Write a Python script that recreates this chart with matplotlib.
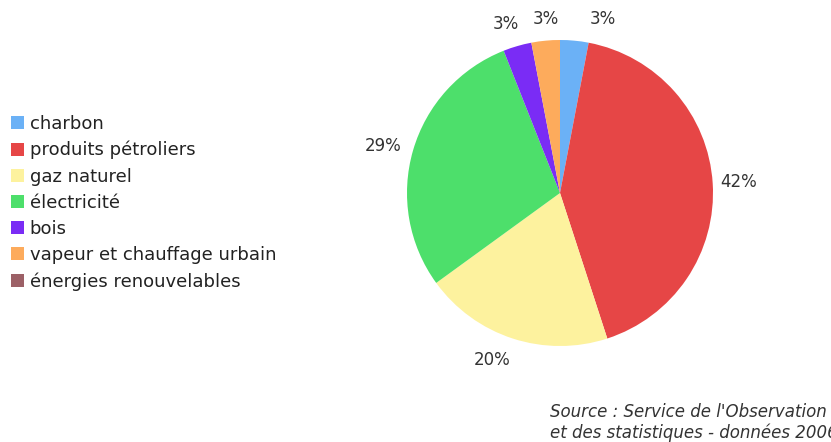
import matplotlib.pyplot as plt
from matplotlib.patches import Patch

# Energy consumption shares (%)
categories = ["charbon", "produits pétroliers", "gaz naturel", "électricité",
              "bois", "vapeur et chauffage urbain", "énergies renouvelables"]
values = [3, 42, 20, 29, 3, 3, 0]
colors = ["#6bb1f6", "#e64646", "#fdf29e", "#4ddf6b", "#7a2cf5", "#fdab5c", "#9c6066"]
source_lines = ["Source : Service de l'Observation",
                "et des statistiques - données 2006"]

W, H = 831, 442
fig = plt.figure(figsize=(W / 100, H / 100), dpi=100)

# Pie axes: centre (560, 193) px, radius 153 px
cx, cy, r = 560, 193, 153
ax = fig.add_axes([(cx - r) / W, (H - cy - r) / H, 2 * r / W, 2 * r / H])

labels = [f"{v}%" if v > 0 else "" for v in values]
wedges, texts = ax.pie(values, colors=colors, startangle=90, counterclock=False,
                       labels=labels, labeldistance=1.17,
                       textprops=dict(fontsize=12, color="#333333"),
                       wedgeprops=dict(linewidth=0))
ax.set_xlim(-1, 1)
ax.set_ylim(-1, 1)
ax.set_aspect("equal")

# spread the three small labels at the top
for t, dx, dy in zip([texts[0], texts[4], texts[5]], [0.17, -0.03, 0.02], [-0.03, -0.02, -0.03]):
    x, y = t.get_position()
    t.set_position((x + dx, y + dy))
x, y = texts[2].get_position()
texts[2].set_position((x - 0.08, y + 0.02))
x, y = texts[3].get_position()
texts[3].set_position((x - 0.03, y - 0.02))
for t in texts:
    t.set_ha("center")
    t.set_va("center")

# Legend
handles = [Patch(facecolor=c, edgecolor="none", label=l) for c, l in zip(colors, categories)]
fig.legend(handles=handles, loc="upper left", bbox_to_anchor=(-0.006, 0.777),
           frameon=False, fontsize=13, handlelength=0.72, handleheight=0.72,
           handletextpad=0.3, labelspacing=0.45, labelcolor="#222222")

# Source note
fig.text(550 / W, 1 - 412 / H, source_lines[0], fontsize=12, style="italic",
         color="#333333", va="center")
fig.text(550 / W, 1 - 433 / H, source_lines[1], fontsize=12, style="italic",
         color="#333333", va="center")

fig.savefig("out.png", dpi=100)
